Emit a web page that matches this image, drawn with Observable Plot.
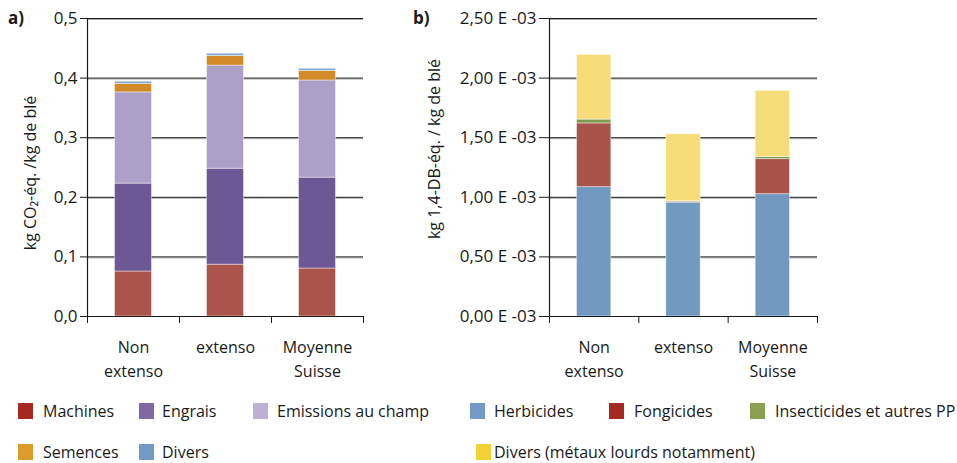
<!DOCTYPE html>
<html>
<head>
<meta charset="utf-8">
<script src="https://cdn.jsdelivr.net/npm/d3@7"></script>
<script src="https://cdn.jsdelivr.net/npm/@observablehq/plot@0.6"></script>
<style>
  body { margin: 0; background: #fff; font-family: "Open Sans", sans-serif; color: #1a1a1a; }
  #wrap { position: relative; width: 957px; height: 463px; overflow: hidden; }
  .abs { position: absolute; white-space: nowrap; }
  .panel { font-weight: bold; font-size: 17px; }
  .ytitle { font-size: 16px; transform: translate(-50%, -50%) rotate(-90deg); }
  .leg { font-size: 16px; line-height: 16px; transform: translateY(-50%); }
  .sw { width: 15px; height: 16px; transform: translateY(-50%); }
</style>
</head>
<body>
<div id="wrap"></div>
<script>
// ---- Data ----
const categories = ["Non\nextenso", "extenso", "Moyenne\nSuisse"];

// a) kg CO2-eq / kg blé (stack order bottom -> top)
const co2Components = ["Machines", "Engrais", "Emissions au champ", "Semences", "Divers"];
const co2Machines  = [0.0755, 0.087, 0.0805];
const co2Engrais   = [0.1475, 0.161, 0.1525];
const co2Emissions = [0.153, 0.173, 0.163];
const co2Semences  = [0.014, 0.016, 0.016];
const co2Divers    = [0.004, 0.004, 0.0037];
const co2BarColors = ["#ab544b", "#6d5896", "#ada0c8", "#d18a27", "#86a9cc"];
const co2Ticks = [0, 0.1, 0.2, 0.3, 0.4, 0.5];

// b) kg 1,4-DB-eq / kg blé (stack order bottom -> top)
const dbComponents = ["Herbicides", "Fongicides", "Insecticides et autres PP", "Divers (métaux lourds notamment)"];
const dbHerbicides   = [1.085e-3, 0.955e-3, 1.026e-3];
const dbFongicides   = [0.535e-3, 0.008e-3, 0.294e-3];
const dbInsecticides = [0.032e-3, 0.004e-3, 0.017e-3];
const dbDivers       = [0.543e-3, 0.562e-3, 0.556e-3];
const dbBarColors = ["#7299c0", "#a9544b", "#7f9a4e", "#f7dc7a"];
const dbTicks = [0, 0.5e-3, 1.0e-3, 1.5e-3, 2.0e-3, 2.5e-3];

// Legend
const legendRow1 = [
  {label: "Machines", color: "#a6291f"},
  {label: "Engrais", color: "#7e69a3"},
  {label: "Emissions au champ", color: "#bdb2d3"},
  {label: "Herbicides", color: "#7399c8"},
  {label: "Fongicides", color: "#a6291f"},
  {label: "Insecticides et autres PP", color: "#8c9e4f"}
];
const legendRow2 = [
  {label: "Semences", color: "#dc9b2a"},
  {label: "Divers", color: "#7399c8"},
  {label: "Divers (métaux lourds notamment)", color: "#f2d236"}
];

// ---- Build stacked rows ----
function stackRows(components, series) {
  const rows = [];
  categories.forEach((c, i) => {
    let acc = 0;
    components.forEach((comp, k) => {
      const v = series[k][i];
      rows.push({i, comp, y1: acc, y2: acc + v});
      acc += v;
    });
  });
  return rows;
}
const co2Rows = stackRows(co2Components, [co2Machines, co2Engrais, co2Emissions, co2Semences, co2Divers]);
const dbRows = stackRows(dbComponents, [dbHerbicides, dbFongicides, dbInsecticides, dbDivers]);

function chart({rows, components, colors, ticks, tickFormat, width, marginLeft, marginRight, tickSize}) {
  const ymax = ticks[ticks.length - 1];
  const grid = ticks.slice(1);
  return Plot.plot({
    width, height: 385,
    marginLeft, marginRight, marginTop: 18, marginBottom: 69,
    x: {domain: [0, categories.length], axis: null},
    y: {domain: [0, ymax], axis: null},
    color: {domain: components, range: colors},
    style: {fontFamily: "Open Sans", fontSize: "17px", color: "#1a1a1a", background: "white"},
    marks: [
      Plot.gridY(grid, {stroke: "#b0b0b0", strokeOpacity: 1, dy: 1}),
      Plot.gridY(grid, {stroke: "#1a1a1a", strokeOpacity: 1}),
      Plot.rectY(rows, {
        x1: d => d.i, x2: d => d.i + 1, y1: "y1", y2: "y2", fill: "comp",
        insetLeft: 27.5, insetRight: 27.5, stroke: "white", strokeOpacity: 0.55, strokeWidth: 0.8
      }),
      Plot.ruleY([0], {stroke: "#1a1a1a", strokeWidth: 1.2}),
      Plot.ruleX([0], {y1: 0, y2: ymax, stroke: "#1a1a1a", strokeWidth: 1.2}),
      Plot.axisY({ticks, tickSize, tickPadding: 3, tickFormat, label: null, fontSize: 17, stroke: "#1a1a1a", strokeOpacity: 1}),
      Plot.axisX({ticks: d3.range(categories.length + 1), tickSize: 7, tickFormat: () => "", label: null, stroke: "#1a1a1a", strokeOpacity: 1}),
      Plot.text(categories, {
        x: (d, i) => i + 0.5, y: 0, text: d => d, dy: 19,
        lineAnchor: "top", lineHeight: 1.5, fontSize: 16, fill: "#1a1a1a"
      })
    ]
  });
}

const wrap = document.getElementById("wrap");

const left = chart({
  rows: co2Rows, components: co2Components, colors: co2BarColors, ticks: co2Ticks,
  tickFormat: d => d.toFixed(1).replace(".", ","),
  width: 400, marginLeft: 87, marginRight: 37, tickSize: 7
});
left.style.position = "absolute"; left.style.left = "0px"; left.style.top = "0px";
wrap.appendChild(left);

const right = chart({
  rows: dbRows, components: dbComponents, colors: dbBarColors, ticks: dbTicks,
  tickFormat: d => (d * 1000).toFixed(2).replace(".", ",") + " E -03",
  width: 547, marginLeft: 139, marginRight: 140, tickSize: 10
});
right.style.position = "absolute"; right.style.left = "410px"; right.style.top = "0px";
wrap.appendChild(right);

function addText(text, cls, x, y) {
  const el = document.createElement("div");
  el.className = "abs " + cls;
  el.textContent = text;
  el.style.left = x + "px"; el.style.top = y + "px";
  wrap.appendChild(el);
  return el;
}
addText("a)", "panel", 8, 6);
addText("b)", "panel", 413, 6);
addText("kg CO₂-éq. /kg de blé", "ytitle", 30, 173);
addText("kg 1,4-DB-éq. / kg de blé", "ytitle", 434, 149);

function addLegend(items, xs, textXs, y) {
  items.forEach((it, k) => {
    const sw = document.createElement("div");
    sw.className = "abs sw";
    sw.style.left = xs[k] + "px"; sw.style.top = y + "px"; sw.style.background = it.color;
    wrap.appendChild(sw);
    addText(it.label, "leg", textXs[k], y);
  });
}
addLegend(legendRow1, [18, 139, 253, 470, 609, 750], [43, 162, 277, 494, 634, 775], 411);
addLegend(legendRow2, [18, 139, 476], [43, 162, 494], 452);
</script>
</body>
</html>
